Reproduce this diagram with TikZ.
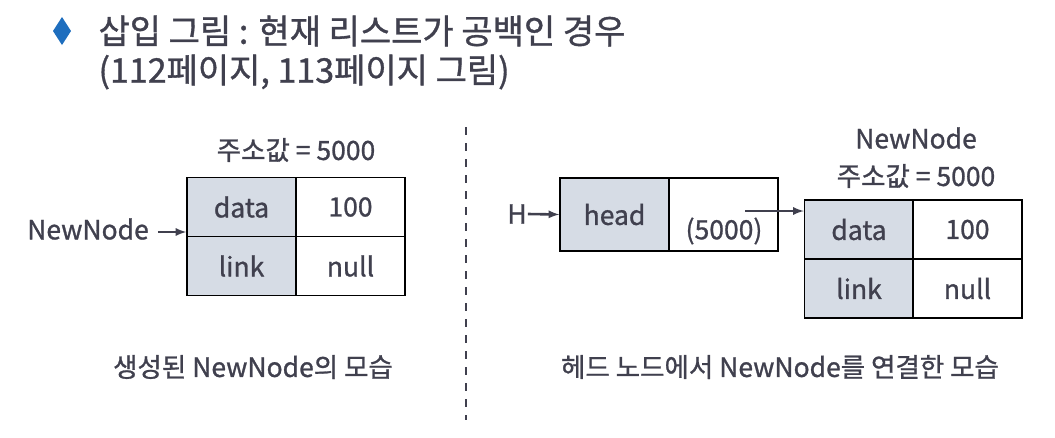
\documentclass[tikz,border=0pt]{standalone}
\usepackage{fontspec}
\setmainfont{Noto Sans CJK KR}[FakeBold=1]
\definecolor{txt}{RGB}{64,64,78}
\definecolor{cellfill}{RGB}{214,220,229}
\definecolor{bullet}{RGB}{30,110,190}
\tikzset{
  cell/.style={draw=black,line width=1.5pt,minimum width=109pt,minimum height=59pt,inner sep=0pt,text=txt,font=\fontsize{26.5}{30}\selectfont},
  key/.style={cell,fill=cellfill},
  lbl/.style={text=txt,inner sep=1pt,font=\fontsize{26.5}{30}\selectfont},
  ptr/.style={draw=txt,line width=2.6pt,-latex}
}
\begin{document}
\begin{tikzpicture}[x=1pt,y=-1pt]
   \useasboundingbox (0,0) rectangle (1055,437);
   \fill [bullet] (62,17) -- (71,31) -- (62,45) -- (53,31) -- cycle;
   \node [anchor=west,text=txt,font=\fontsize{34}{40}\selectfont] (title) at (95,31) {삽입 그림 : 현재 리스트가 공백인 경우};
   \node [anchor=west,text=txt,font=\fontsize{34}{40}\selectfont] (subtitle) at (95,72) {(112페이지, 113페이지 그림)};
   \draw [txt,line width=2pt,dash pattern=on 8pt off 8pt] (466,127) -- (466,420);
   % left: created node
   \node [key] (ldata) at (241.5,207) {data};
   \node [cell] (lval) at (350.5,207) {100};
   \node [key] (llink) at (241.5,266) {link};
   \node [cell] (lnull) at (350.5,266) {null};
   \node [lbl] (laddr) at (296,150) {주소값 = 5000};
   \node [lbl] (lname) at (88,229) {NewNode};
   \draw [ptr] (lname.east) ++(8,3) coordinate (lstart) -- (lstart -| ldata.west);
   \node [lbl] (lcap) at (253,367) {생성된 NewNode의 모습};
   % right: head linked to new node
   \node [key,minimum height=73pt] (head) at (614.5,214.5) {head};
   \node [cell,minimum height=73pt] (hlink) at (723.5,214.5) {};
   \node [lbl] (haddr) at (724,231) {(5000)};
   \node [lbl] (hname) at (517,214) {H};
   \draw [ptr] (hname.east) -- (head.west);
   \node [key] (rdata) at (859,229.5) {data};
   \node [cell] (rval) at (967.5,229.5) {100};
   \node [key] (rlink) at (859,288.5) {link};
   \node [cell] (rnull) at (967.5,288.5) {null};
   \node [lbl] (rname) at (916,138) {NewNode};
   \node [lbl] (raddr) at (916,176) {주소값 = 5000};
   \coordinate (hstart) at (745,211);
   \draw [ptr] (hstart) -- (hstart -| rdata.west);
   \node [lbl] (rcap) at (780,367) {헤드 노드에서 NewNode를 연결한 모습};
\end{tikzpicture}
\end{document}
